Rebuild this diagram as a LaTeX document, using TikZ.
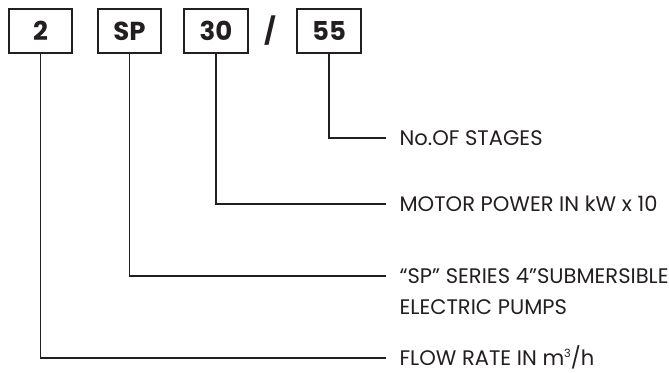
\documentclass[tikz,border=0pt]{standalone}
\usepackage{fontspec}
\setmainfont{Poppins}
\usetikzlibrary{positioning}
\definecolor{ink}{HTML}{231F20}
\newcommand{\supthree}{\raisebox{5.5pt}{\fontsize{8.5}{8.5}\selectfont 3}}
\begin{document}
\begin{tikzpicture}[x=0.75pt,y=-0.75pt,
  codebox/.style={draw=ink,line width=1.3pt,minimum width=47.5pt,minimum height=33pt,inner sep=0pt,
    font=\fontsize{19.5}{19.5}\selectfont\bfseries,text=ink},
  lbl/.style={anchor=west,inner xsep=10pt,inner ysep=0pt,text height=11pt,text depth=0pt,
    font=\fontsize{15.8}{15.8}\selectfont,text=ink},
  lead/.style={draw=ink,line width=1pt}]
\useasboundingbox (0,0) rectangle (669,373);
\node[codebox] (b1) at (40.5,31) {2};
\node[codebox] (b2) at (129.5,31) {SP};
\node[codebox] (b3) at (216,31) {30};
\node[codebox,text=ink] (sl) at (270,31) [draw=none,minimum width=0pt] {/};
\node[codebox] (b4) at (329,31) {55};
\node[lbl] (l4) at (386,138) {No.OF STAGES};
\node[lbl] (l3) at (386,204) {MOTOR POWER IN kW x 10};
\node[lbl] (l2) at (386,276) {“SP” SERIES 4”SUBMERSIBLE};
\node[lbl] (l2b) at (386,307) {ELECTRIC PUMPS};
\node[lbl] (l1) at (386,358) {FLOW RATE IN m\supthree/h};
\draw[lead] (b4.south) |- (l4.west);
\draw[lead] (b3.south) |- (l3.west);
\draw[lead] (b2.south) |- (l2.west);
\draw[lead] (b1.south) |- (l1.west);
\end{tikzpicture}
\end{document}
